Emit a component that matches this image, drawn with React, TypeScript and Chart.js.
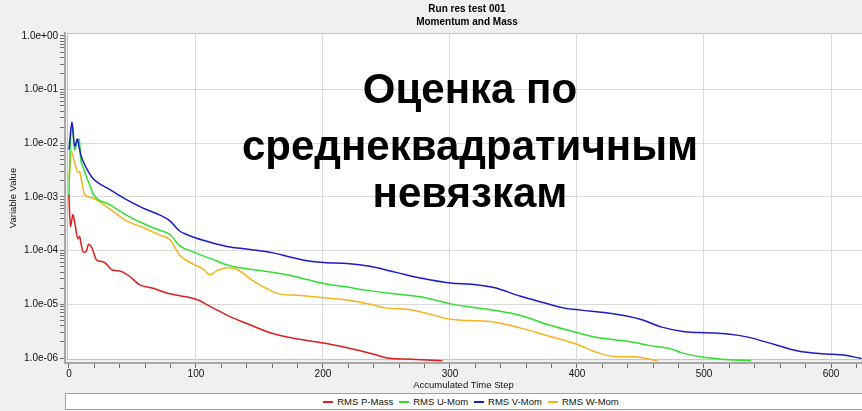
import React, { useEffect, useRef } from 'react';
import { Chart, registerables } from 'chart.js';

Chart.register(...registerables);

const FONT = "'Liberation Sans', Arial, sans-serif";

const chartTitle = ['Run res test 001', 'Momentum and Mass'];
const overlayLines = ['Оценка по', 'среднеквадратичным', 'невязкам'];
const xAxisTitle = 'Accumulated Time Step';
const yAxisTitle = 'Variable Value';

const seriesNames = ['RMS P-Mass', 'RMS U-Mom', 'RMS V-Mom', 'RMS W-Mom'];
const seriesColors = ['#dc1e1e', '#2fe02f', '#1c1cc6', '#f7b31e'];
const seriesDrawOrder = [1, 2, 0, 3];

// RMS P-Mass
const pMassSteps = [0, 1.1, 3.2, 4.5, 7.1, 8.4, 9.2, 11.6, 13.7, 15.5, 18.2, 21.6, 25.6, 28.2, 34.7, 40, 47.9, 55.8, 66.3, 76.9, 87.4, 100.5, 113.7, 126.8, 140, 158.4, 174.2, 200.5, 219, 240, 250.5, 270, 294];
const pMassValues = [1.1e-3, 2.8e-4, 4.7e-4, 3.4e-4, 1.66e-4, 1.86e-4, 1.48e-4, 9.3e-5, 9.8e-5, 1.32e-4, 1.12e-4, 6.8e-5, 6.3e-5, 6.0e-5, 4.3e-5, 4.2e-5, 3.3e-5, 2.3e-5, 2.0e-5, 1.62e-5, 1.45e-5, 1.23e-5, 8.5e-6, 5.9e-6, 4.4e-6, 2.95e-6, 2.4e-6, 1.9e-6, 1.55e-6, 1.17e-6, 1.0e-6, 9.5e-7, 8.9e-7];

// RMS U-Mom
const uMomSteps = [0, 1, 2.4, 4.5, 6.6, 8.2, 9.2, 11, 13.7, 16.3, 19, 32, 45.3, 58.4, 71.6, 79.5, 87.4, 97.9, 113.7, 126.8, 140, 153, 171.6, 187.4, 200.5, 219, 234.7, 258.4, 276.8, 300.5, 316, 337, 355.7, 376.8, 400.5, 416, 440, 458, 474, 482, 497.8, 513.6, 537];
const uMomValues = [1.0e-3, 8e-3, 2.2e-2, 7.5e-3, 1.1e-2, 1.2e-2, 5.2e-3, 3.7e-3, 2.4e-3, 1.7e-3, 1.15e-3, 7.2e-4, 4.6e-4, 3.2e-4, 2.4e-4, 2.0e-4, 1.23e-4, 9.5e-5, 6.8e-5, 5.25e-5, 4.6e-5, 4.2e-5, 3.55e-5, 2.9e-5, 2.45e-5, 2.1e-5, 1.82e-5, 1.55e-5, 1.38e-5, 1.02e-5, 8.9e-6, 7.6e-6, 6.2e-6, 4.2e-6, 2.95e-6, 2.4e-6, 2.05e-6, 1.7e-6, 1.48e-6, 1.26e-6, 1.05e-6, 9.5e-7, 8.9e-7];

// RMS V-Mom
const vMomSteps = [0, 2.4, 4.5, 6.6, 7.9, 9.8, 13.7, 19, 32, 45.3, 58.4, 71.6, 79.5, 87.4, 92.7, 100.5, 113.7, 126.8, 140, 161, 174, 187.4, 200.5, 219, 237, 258.4, 276.8, 300.5, 318.9, 334.6, 355.7, 374, 390, 403, 424, 440, 450.5, 466, 484.6, 503, 519, 534.6, 555.6, 574, 592.5, 608, 624];
const vMomValues = [7.6e-3, 2.5e-2, 8.7e-3, 1.2e-2, 8.7e-3, 5.6e-3, 3.5e-3, 2.2e-3, 1.38e-3, 8.9e-4, 6.2e-4, 4.6e-4, 3.6e-4, 2.3e-4, 2.0e-4, 1.7e-4, 1.38e-4, 1.17e-4, 1.07e-4, 9.1e-5, 7.6e-5, 6.5e-5, 6.0e-5, 5.75e-5, 5.1e-5, 3.9e-5, 3.1e-5, 2.5e-5, 2.35e-5, 2.05e-5, 1.41e-5, 1.07e-5, 8.5e-6, 7.8e-6, 6.9e-6, 6.0e-6, 5.2e-6, 3.8e-6, 3.1e-6, 2.95e-6, 2.8e-6, 2.45e-6, 1.78e-6, 1.35e-6, 1.2e-6, 1.15e-6, 9.8e-7];

// RMS W-Mom
const wMomSteps = [0, 1.9, 4.5, 7.1, 8.4, 9.8, 12.4, 19, 32, 45.3, 58.4, 71.6, 79.5, 87.4, 97.9, 105.8, 111, 116.3, 124.2, 132.1, 145.3, 155.8, 166.3, 179.5, 200.5, 219, 237.3, 250.5, 266.3, 284.7, 300.5, 313.7, 334.6, 355.7, 376.8, 400.5, 416, 429, 445, 463.6];
const wMomValues = [2.1e-3, 7.1e-3, 4.3e-3, 2.9e-3, 3.0e-3, 2.1e-3, 1.1e-3, 9.5e-4, 6.0e-4, 3.6e-4, 2.7e-4, 1.95e-4, 1.6e-4, 8.1e-5, 5.6e-5, 4.5e-5, 3.55e-5, 4.2e-5, 4.8e-5, 4.5e-5, 2.7e-5, 1.95e-5, 1.55e-5, 1.48e-5, 1.32e-5, 1.2e-5, 1.0e-5, 8.5e-6, 8.1e-6, 6.5e-6, 5.25e-6, 5.0e-6, 4.7e-6, 3.6e-6, 2.6e-6, 1.78e-6, 1.26e-6, 1.07e-6, 1.05e-6, 8.9e-7];

const seriesSteps = [pMassSteps, uMomSteps, vMomSteps, wMomSteps];
const seriesValues = [pMassValues, uMomValues, vMomValues, wMomValues];

// axes
const xMin = -3.1;
const xMax = 624.4;
const xTickValues = [0, 20, 40, 60, 80, 100, 120, 140, 160, 180, 200, 220, 240, 260, 280, 300, 320, 340, 360, 380, 400, 420, 440, 460, 480, 500, 520, 540, 560, 580, 600, 620];
const xLabelledTicks = [0, 100, 200, 300, 400, 500, 600];
const yMin = 8.07e-7;
const yMax = 1.137;
const yDecades = [-6, -5, -4, -3, -2, -1, 0];
const yMinorMultipliers = [1, 2, 3, 4, 5, 6, 7, 8, 9];
const yLowest = 1e-6;

const isDecade = (v: number) => {
  const l = Math.log10(v);
  return Math.abs(l - Math.round(l)) < 1e-9;
};
const fmtDecade = (v: number) => {
  const e = Math.round(Math.log10(v));
  return '1.0e' + (e < 0 ? '-' : '+') + String(Math.abs(e)).padStart(2, '0');
};

export default function App() {
  const canvasRef = useRef<HTMLCanvasElement>(null);

  useEffect(() => {
    const canvas = canvasRef.current;
    if (!canvas) return;

    const yTickValues: number[] = [];
    yDecades.forEach((e) => {
      yMinorMultipliers.forEach((m) => {
        const v = m * Math.pow(10, e);
        if (v <= yMax && v >= yLowest * 0.999) yTickValues.push(v);
      });
    });

    const plotBackground = {
      id: 'plotBackground',
      beforeDraw(chart: any) {
        const { ctx, chartArea, scales } = chart;
        const x0 = Math.round(scales.x.getPixelForValue(0)) - 2;
        const yb = Math.round(scales.y.getPixelForValue(yLowest)) + 2;
        ctx.save();
        ctx.fillStyle = '#ffffff';
        ctx.fillRect(x0, chartArea.top, chartArea.right - x0, yb - chartArea.top);
        ctx.strokeStyle = '#c4c4c4';
        ctx.lineWidth = 1;
        ctx.strokeRect(x0 + 0.5, chartArea.top + 0.5, chartArea.right - x0, yb - chartArea.top - 1);
        ctx.restore();
      },
    };

    const datasets = seriesNames.map((name, i) => ({
      label: name,
      data: seriesSteps[i].map((s, j) => ({ x: s, y: seriesValues[i][j] })),
      borderColor: seriesColors[i],
      backgroundColor: seriesColors[i],
      borderWidth: 1.5,
      pointRadius: 0,
      fill: false,
      cubicInterpolationMode: 'monotone' as const,
      order: seriesDrawOrder[i],
    }));

    Chart.defaults.font.family = FONT;

    const chart = new Chart(canvas, {
      type: 'line',
      data: { datasets },
      options: {
        animation: false,
        responsive: false,
        maintainAspectRatio: false,
        layout: { padding: { top: 33, left: 0, right: 0, bottom: 0 } },
        plugins: {
          legend: { display: false },
          title: { display: false },
          tooltip: { enabled: false },
        },
        scales: {
          x: {
            type: 'linear',
            min: xMin,
            max: xMax,
            bounds: 'data',
            afterBuildTicks: (s: any) => {
              s.ticks = xTickValues.map((v) => ({ value: v }));
            },
            afterFit: (s: any) => {
              s.height = 48;
            },
            ticks: {
              autoSkip: false,
              maxRotation: 0,
              padding: 0,
              color: '#111',
              font: { size: 10, family: FONT },
              callback: (v: any) => (xLabelledTicks.includes(Number(v)) ? String(v) : ''),
            },
            grid: {
              color: (c: any) =>
                c.tick && c.tick.value > 0 && xLabelledTicks.includes(c.tick.value) ? '#dadada' : 'rgba(0,0,0,0)',
              tickColor: '#707070',
              tickLength: 5,
              lineWidth: 1,
            },
            border: { color: '#a8a8a8', width: 2 },
            title: {
              display: true,
              text: xAxisTitle,
              color: '#111',
              font: { size: 9.5, family: FONT },
              padding: { top: 0, bottom: 20 },
            },
          },
          y: {
            type: 'logarithmic',
            min: yMin,
            max: yMax,
            bounds: 'data',
            afterBuildTicks: (s: any) => {
              s.ticks = yTickValues.map((v) => ({ value: v, major: isDecade(v) }));
            },
            afterFit: (s: any) => {
              s.width = 65;
            },
            ticks: {
              autoSkip: false,
              padding: 2,
              color: '#111',
              font: { size: 10, family: FONT },
              callback: (v: any) => (isDecade(Number(v)) ? fmtDecade(Number(v)) : ''),
            },
            grid: {
              color: (c: any) =>
                c.tick && isDecade(c.tick.value) && c.tick.value < 0.5 && c.tick.value > 2e-6 ? '#dadada' : 'rgba(0,0,0,0)',
              tickColor: '#707070',
              tickLength: 5,
              lineWidth: 1,
            },
            border: { color: '#a8a8a8', width: 2 },
            title: {
              display: true,
              text: yAxisTitle,
              color: '#111',
              font: { size: 9.5, family: FONT },
              padding: { top: 8, bottom: 0 },
            },
          },
        },
      },
      plugins: [plotBackground],
    });

    return () => chart.destroy();
  }, []);

  return (
    <div
      style={{
        position: 'fixed',
        left: 0,
        top: 0,
        width: 862,
        height: 411,
        overflow: 'hidden',
        background: '#f0f0f0',
        fontFamily: FONT,
      }}
    >
      <canvas ref={canvasRef} width={862} height={411} style={{ position: 'absolute', left: 0, top: 0 }} />
      <div
        style={{
          position: 'absolute',
          left: 0,
          top: 2,
          width: 934,
          textAlign: 'center',
          fontSize: 10,
          fontWeight: 'bold',
          lineHeight: '13px',
          color: '#000',
          pointerEvents: 'none',
        }}
      >
        {chartTitle.map((t) => (
          <div key={t}>{t}</div>
        ))}
      </div>
      <div
        style={{
          position: 'absolute',
          left: 0,
          top: 65,
          width: 940,
          textAlign: 'center',
          fontSize: 42,
          fontWeight: 'bold',
          lineHeight: '47px',
          color: '#000',
          pointerEvents: 'none',
          whiteSpace: 'nowrap',
        }}
      >
        {overlayLines.map((t, i) => (
          <div key={t} style={{ marginBottom: i === 0 ? 10 : 0 }}>
            {t}
          </div>
        ))}
      </div>
      <div
        style={{
          position: 'absolute',
          left: 65,
          top: 393,
          width: 790,
          height: 15,
          background: '#fff',
          border: '1px solid #a0a0a0',
          display: 'flex',
          alignItems: 'center',
          justifyContent: 'center',
          paddingLeft: 10,
          boxSizing: 'content-box',
          fontSize: 9.5,
          color: '#111',
          whiteSpace: 'nowrap',
        }}
      >
        {seriesNames.map((n, i) => (
          <span key={n} style={{ display: 'inline-flex', alignItems: 'center', marginRight: i === seriesNames.length - 1 ? 0 : 6 }}>
            <span
              style={{
                display: 'inline-block',
                width: 10,
                height: 2,
                background: seriesColors[i],
                marginRight: 4,
              }}
            />
            <span>{n}</span>
          </span>
        ))}
      </div>
    </div>
  );
}
